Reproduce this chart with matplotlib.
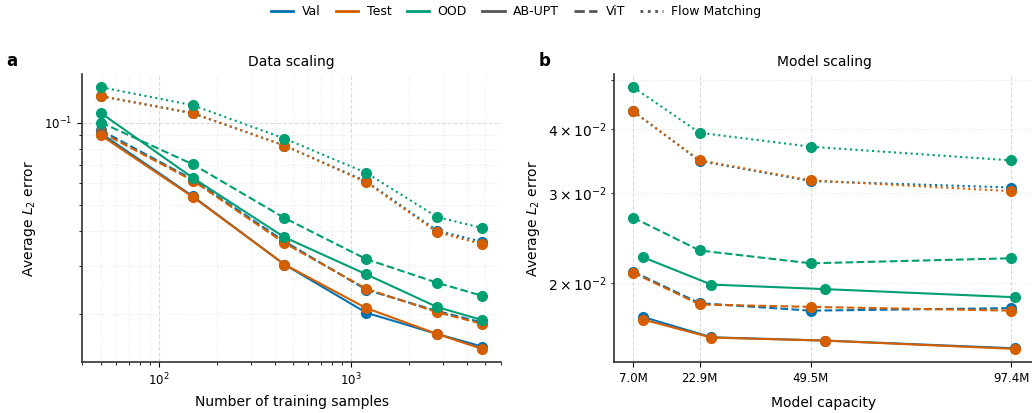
import numpy as np
import matplotlib
matplotlib.use("Agg")
import matplotlib.pyplot as plt
from matplotlib.lines import Line2D

# ---------------- data ----------------
# Data scaling (panel a)
n_samples = [50, 150, 450, 1200, 2800, 4800]
abupt_val_a = [0.0912, 0.0538, 0.0303, 0.0202, 0.0169, 0.0152]
abupt_test_a = [0.0897, 0.0535, 0.0303, 0.0210, 0.0169, 0.0149]
abupt_ood_a = [0.1082, 0.0628, 0.0381, 0.0279, 0.0212, 0.0190]
vit_val_a = [0.0937, 0.0619, 0.0368, 0.0245, 0.0205, 0.0186]
vit_test_a = [0.0922, 0.0614, 0.0363, 0.0247, 0.0203, 0.0184]
vit_ood_a = [0.1000, 0.0704, 0.0448, 0.0317, 0.0260, 0.0233]
fm_val_a = [0.1248, 0.1082, 0.0824, 0.0610, 0.0403, 0.0367]
fm_test_a = [0.1248, 0.1082, 0.0824, 0.0605, 0.0398, 0.0360]
fm_ood_a = [0.1346, 0.1157, 0.0874, 0.0655, 0.0452, 0.0412]

# Model scaling (panel b)
cap_ticks = [7.0, 22.9, 49.5, 97.4]
cap_labels = ["7.0M", "22.9M", "49.5M", "97.4M"]
cap_base = [7.0, 22.9, 49.5, 97.4]      # ViT / Flow Matching
cap_abupt = [9.4, 25.7, 52.8, 98.3]     # AB-UPT
abupt_val_b = [0.0172, 0.0157, 0.01547, 0.01494]
abupt_test_b = [0.0170, 0.01568, 0.01547, 0.0149]
abupt_ood_b = [0.0225, 0.0199, 0.0195, 0.0188]
vit_val_b = [0.0211, 0.0183, 0.0177, 0.0179]
vit_test_b = [0.0210, 0.0182, 0.0180, 0.0177]
vit_ood_b = [0.0269, 0.0232, 0.0219, 0.0224]
fm_val_b = [0.0434, 0.0347, 0.0317, 0.0308]
fm_test_b = [0.0434, 0.0348, 0.0318, 0.0303]
fm_ood_b = [0.04836, 0.0394, 0.0370, 0.0348]

C_VAL, C_TEST, C_OOD = "#0072B2", "#D55E00", "#009E73"
GRAY = "#555555"

plt.rcParams["font.family"] = ["DejaVu Sans"]

fig = plt.figure(figsize=(10.32, 4.13), dpi=100)
axA = fig.add_axes([0.0795, 0.1235, 0.406, 0.697])
axB = fig.add_axes([0.595, 0.1235, 0.407, 0.697])

kw = dict(marker="o", markersize=7, linewidth=1.5)

def draw(ax, xs_ab, xs_o, sets):
    (av, at, ao, vv, vt, vo, fv, ft, fo) = sets
    for ys, c in ((fv, C_VAL), (ft, C_TEST), (fo, C_OOD)):
        ax.plot(xs_o, ys, color=c, linestyle=":", **kw)
    for ys, c in ((vv, C_VAL), (vt, C_TEST), (vo, C_OOD)):
        ax.plot(xs_o, ys, color=c, linestyle="--", **kw)
    for ys, c in ((av, C_VAL), (at, C_TEST), (ao, C_OOD)):
        ax.plot(xs_ab, ys, color=c, linestyle="-", **kw)

draw(axA, n_samples, n_samples,
     (abupt_val_a, abupt_test_a, abupt_ood_a, vit_val_a, vit_test_a, vit_ood_a,
      fm_val_a, fm_test_a, fm_ood_a))
draw(axB, cap_abupt, cap_base,
     (abupt_val_b, abupt_test_b, abupt_ood_b, vit_val_b, vit_test_b, vit_ood_b,
      fm_val_b, fm_test_b, fm_ood_b))

axA.set_xscale("log")
axA.set_yscale("log")
axB.set_yscale("log")
axB.set_xticks(cap_ticks)
axB.set_xticklabels(cap_labels)

for ax in (axA, axB):
    ax.spines["top"].set_visible(False)
    ax.spines["right"].set_visible(False)
    ax.spines["left"].set_color("#333333")
    ax.spines["bottom"].set_color("#333333")
    ax.spines["left"].set_linewidth(1.2)
    ax.spines["bottom"].set_linewidth(1.2)
    ax.tick_params(labelsize=8.5)
    ax.grid(which="major", linestyle="--", color="#cccccc", alpha=0.7, linewidth=0.8)
    ax.grid(which="minor", linestyle=":", color="#dddddd", alpha=0.7, linewidth=0.8)
    ax.set_ylabel("Average $L_2$ error", fontsize=10)

axA.set_xlabel("Number of training samples", fontsize=10, labelpad=5)
axB.set_xlabel("Model capacity", fontsize=10, labelpad=8)
axA.set_title("Data scaling", fontsize=10)
axB.set_title("Model scaling", fontsize=10)

fig.text(0.006, 0.840, "a", fontsize=12, fontweight="bold")
fig.text(0.522, 0.840, "b", fontsize=12, fontweight="bold")

handles = [
    Line2D([], [], color=C_VAL, lw=2, label="Val"),
    Line2D([], [], color=C_TEST, lw=2, label="Test"),
    Line2D([], [], color=C_OOD, lw=2, label="OOD"),
    Line2D([], [], color=GRAY, lw=2, ls="-", label="AB-UPT"),
    Line2D([], [], color=GRAY, lw=2, ls="--", label="ViT"),
    Line2D([], [], color=GRAY, lw=2, ls=":", label="Flow Matching"),
]
fig.legend(handles=handles, loc="upper center", ncol=6, frameon=False,
           fontsize=9, bbox_to_anchor=(0.5, 1.015), columnspacing=1.2,
           handlelength=1.8, handletextpad=0.7)

fig.savefig("out.png", dpi=100)
